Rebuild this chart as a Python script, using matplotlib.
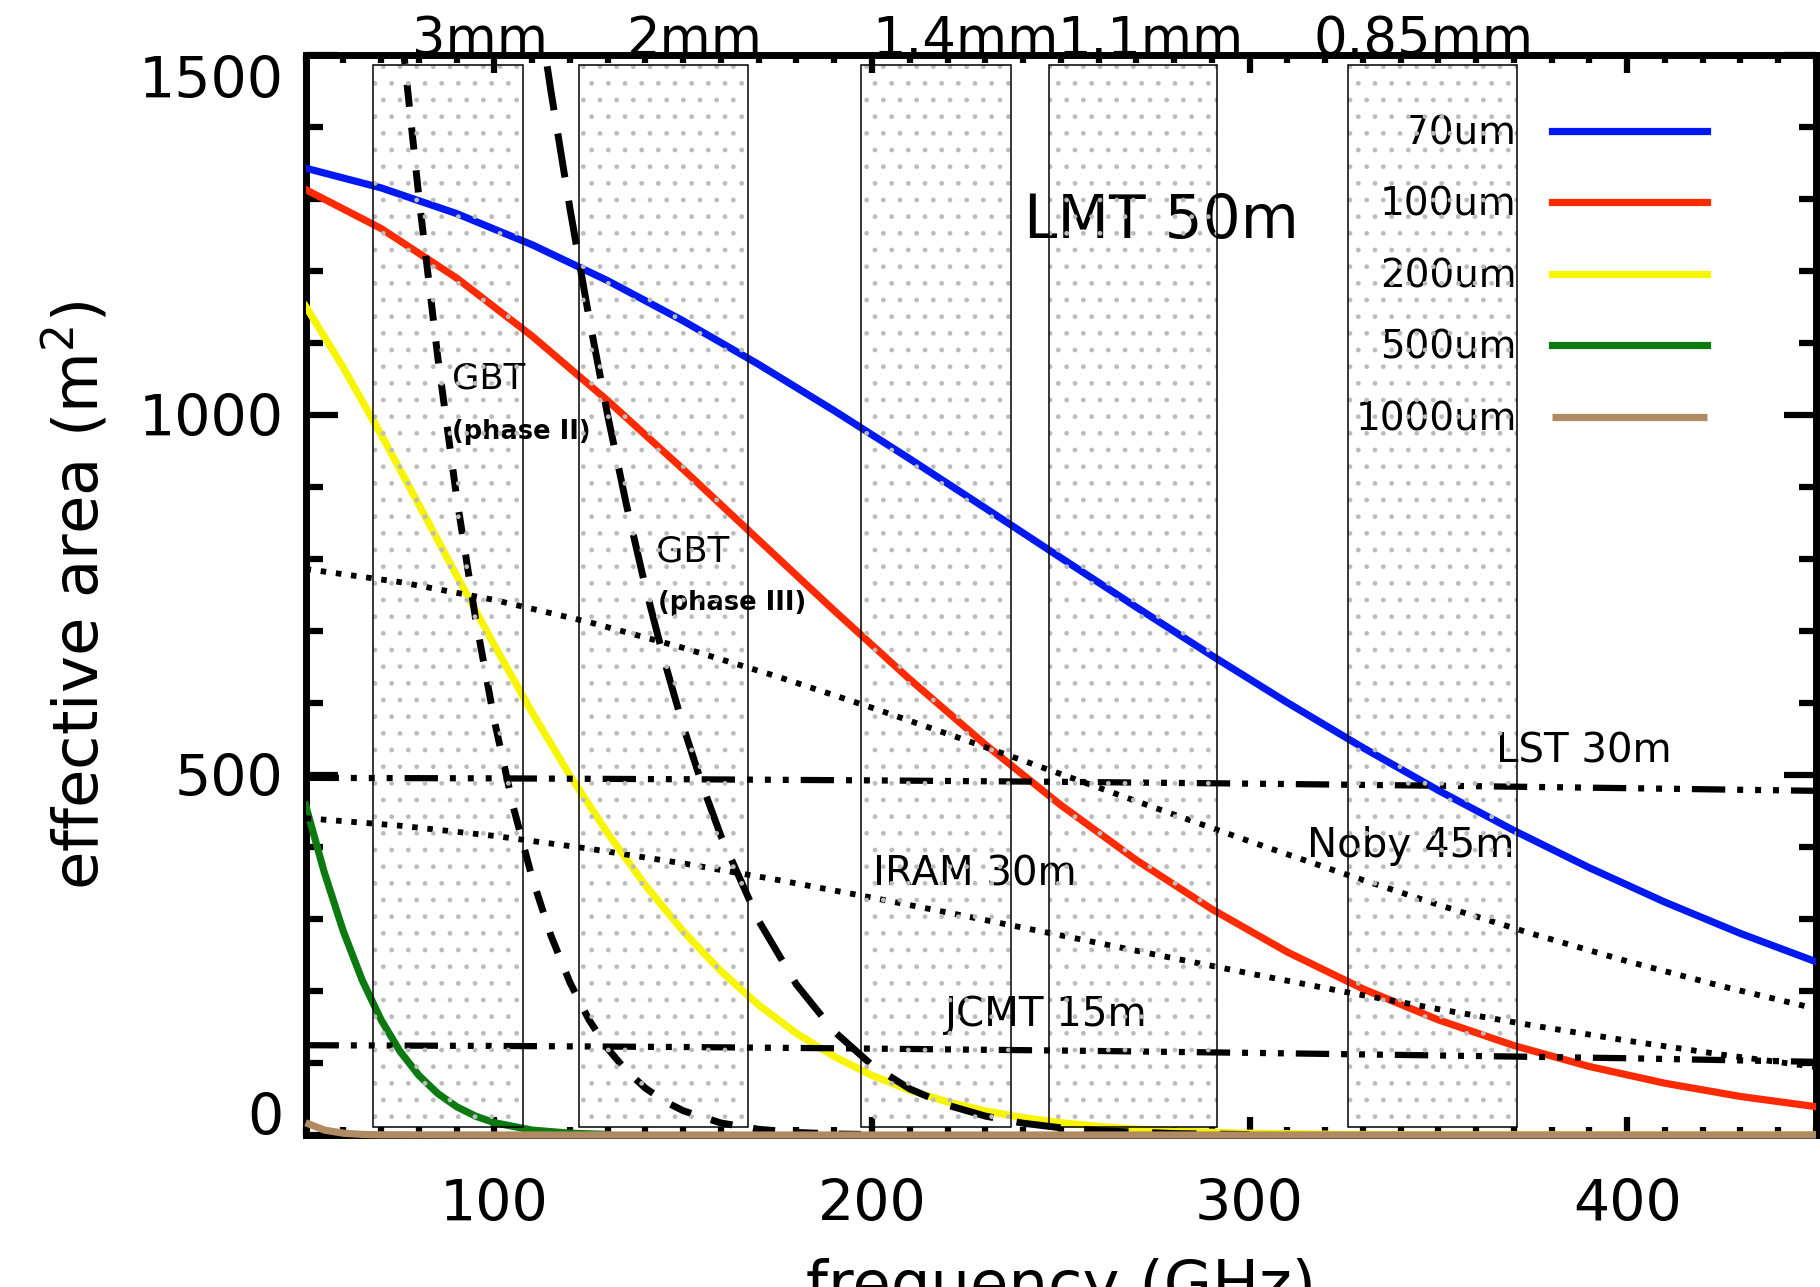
import matplotlib
matplotlib.use("Agg")
import matplotlib.pyplot as plt
from matplotlib.ticker import MultipleLocator, FixedLocator

plt.rcParams['font.family'] = ['DejaVu Sans']
plt.rcParams['lines.scale_dashes'] = False
plt.rcParams['hatch.linewidth'] = 1.0

# ---------------- data ----------------
freq_70um = [50, 70, 90, 110, 130, 150, 170, 190, 210, 230, 250, 270, 290, 310, 330,
             350, 370, 390, 410, 430, 450]
area_70um = [1342.8, 1315.4, 1279.7, 1236.4, 1186.5, 1130.7, 1070.2, 1005.9, 939.1, 870.7,
             801.7, 733.1, 665.8, 600.5, 538.0, 478.6, 422.9, 371.1, 323.4, 279.9, 240.6]

freq_100um = [50, 70, 90, 110, 130, 150, 170, 190, 210, 230, 250, 270, 290, 310, 330,
              350, 370, 390, 410, 430, 450]
area_100um = [1313.1, 1259.0, 1190.2, 1109.5, 1019.9, 924.5, 826.3, 728.3, 632.9, 542.3,
              458.2, 381.8, 313.7, 254.1, 203.0, 159.9, 124.2, 95.1, 71.9, 53.5, 39.3]

freq_200um = [50, 60, 70, 80, 90, 100, 110, 120, 130, 140, 150, 160, 170, 180, 190, 200,
              210, 220, 230, 240, 250, 260, 270, 280, 290, 300, 325, 350, 450]
area_200um = [1151.2, 1065.7, 972.8, 875.6, 777.1, 680.1, 586.9, 499.4, 419.1, 346.7,
              282.9, 227.5, 180.5, 141.2, 108.9, 82.8, 62.1, 46.0, 33.5, 24.1, 17.1, 11.9,
              8.2, 5.6, 3.8, 2.5, 0.8, 0.3, 0.0]

freq_500um = [50, 55, 60, 65, 70, 75, 80, 85, 90, 95, 100, 110, 120, 130]
area_500um = [458.2, 364.0, 282.9, 215.0, 159.9, 116.3, 82.8, 57.7, 39.3, 26.2, 17.1, 6.8, 2.5, 0.8]

freq_1000um = [50, 55, 60, 65, 70, 100, 450]
area_1000um = [17.1, 6.8, 2.5, 0.8, 0.3, 0.0, 0.0]

freq_gbt2 = [70, 75, 80, 85, 90, 95, 100, 105, 110, 115, 120, 125, 130, 135, 140, 145,
             150, 160, 170, 180, 190, 200]
area_gbt2 = [1831, 1553, 1303, 1080.5, 885.8, 717.9, 575.4, 455.9, 357.2, 276.7, 211.9,
             160.5, 120.1, 88.9, 65.1, 47.1, 33.7, 16.7, 7.9, 3.6, 1.5, 0.6]

freq_gbt3 = [110, 115, 120, 125, 130, 135, 140, 145, 150, 155, 160, 170, 180, 190, 200,
             210, 220, 230, 240, 250, 260, 280, 300]
area_gbt3 = [1623, 1449, 1287, 1137, 999.6, 874.5, 760.9, 659.0, 567.5, 486.8, 415.3,
             297.5, 208.9, 143.8, 97.0, 64.1, 41.5, 26.3, 16.4, 10.0, 6.0, 2.0, 0.6]

freq_tel = [50, 75, 100, 125, 150, 175, 200, 225, 250, 275, 300, 325, 350, 375, 400, 425, 450]
area_noby = [786.1, 767.9, 743.1, 712.4, 676.6, 636.6, 593.4, 548.0, 501.3, 454.3,
             407.9, 362.8, 319.7, 279.2, 241.3, 206.7, 175.4]
area_iram = [440.0, 429.6, 415.4, 397.7, 377.2, 354.3, 329.7, 303.8, 277.3, 250.6,
             224.4, 199.0, 174.8, 152.1, 131.0, 111.7, 94.4]

freq_flat = [50, 100, 150, 200, 250, 300, 350, 400, 450]
area_lst = [496.0, 495.3, 494.1, 492.5, 490.5, 488.0, 485.1, 481.7, 478.0]
area_jcmt = [124.7, 123.7, 122.2, 120.0, 117.3, 114.1, 110.5, 106.6, 101.6]

band_lo = [67.8, 122.5, 197.2, 246.9, 326.1]
band_hi = [107.6, 167.1, 236.8, 291.5, 370.9]
band_names = ['3mm', '2mm', '1.4mm', '1.1mm', '0.85mm']

legend_labels = ['70um', '100um', '200um', '500um', '1000um']
x_ticks = [100, 200, 300, 400]
y_ticks = [0, 500, 1000, 1500]

# ---------------- figure ----------------
fig = plt.figure(figsize=(18.2, 12.87), dpi=100)
ax = fig.add_axes([0.1679, 0.1181, 0.8299, 0.8392])
ax.set_xlim(50, 450)
ax.set_ylim(0, 1500)

colors = ['#0019f0', '#ff2a00', '#f8f500', '#0c7a10', '#b08a63']
lw_c = 5.2
h1, = ax.plot(freq_70um, area_70um, color=colors[0], lw=lw_c, zorder=3)
h2, = ax.plot(freq_100um, area_100um, color=colors[1], lw=lw_c, zorder=3)
h3, = ax.plot(freq_200um, area_200um, color=colors[2], lw=lw_c, zorder=3)
h4, = ax.plot(freq_500um, area_500um, color=colors[3], lw=lw_c, zorder=3)
h5, = ax.plot(freq_1000um, area_1000um, color=colors[4], lw=lw_c, zorder=4.5,
              clip_on=False, solid_capstyle='butt')

# other telescopes
ax.plot(freq_gbt2, area_gbt2, color='black', lw=5, dashes=(16, 15), zorder=4)
ax.plot(freq_gbt3, area_gbt3, color='black', lw=5, dashes=(32, 17), zorder=4)
ax.plot(freq_tel, area_noby, color='black', lw=4.2, dashes=(4, 7), zorder=4)
ax.plot(freq_tel, area_iram, color='black', lw=4.2, dashes=(4, 7), zorder=4)
ddd = (24, 8.6, 4.3, 8.6, 4.3, 8.6, 4.3, 8.6)
ax.plot(freq_flat, area_lst, color='black', lw=4.5, dashes=ddd, zorder=4)
ax.plot(freq_flat, area_jcmt, color='black', lw=4.5, dashes=ddd, zorder=4)

# shaded atmospheric windows
for lo, hi in zip(band_lo, band_hi):
    ax.axvspan(lo, hi, ymin=0.0074, ymax=0.9907, facecolor='none',
               edgecolor='#bcbcbc', hatch='.', linewidth=0, zorder=6)
    ax.axvspan(lo, hi, ymin=0.0074, ymax=0.9907, fill=False,
               edgecolor='black', linewidth=1.1, zorder=6)

# band labels above the axes
band_label_x = [96.2, 152.8, 224.8, 273.6, 346.1]
for xl, name in zip(band_label_x, band_names):
    ax.text(xl, 1.0, name, transform=ax.get_xaxis_transform(), ha='center',
            va='baseline', fontsize=38, clip_on=False, zorder=7)

# telescope labels
ax.text(240.3, 1246, 'LMT 50m', fontsize=43, ha='left', va='baseline', zorder=3)
ax.text(88.7, 1037, 'GBT', fontsize=25.5, ha='left', va='baseline', zorder=3)
ax.text(88.7, 967, '(phase II)', fontsize=18.5, fontweight='bold', ha='left',
        va='baseline', zorder=3)
ax.text(142.8, 796, 'GBT', fontsize=25.5, ha='left', va='baseline', zorder=3)
ax.text(143.4, 729, '(phase III)', fontsize=18.5, fontweight='bold', ha='left',
        va='baseline', zorder=3)
ax.text(365.2, 518, 'LST 30m', fontsize=29, ha='left', va='baseline', zorder=3)
ax.text(315.1, 386, 'Noby 45m', fontsize=29, ha='left', va='baseline', zorder=3)
ax.text(200.3, 346, 'IRAM 30m', fontsize=29, ha='left', va='baseline', zorder=3)
ax.text(219.2, 151, 'JCMT 15m', fontsize=29, ha='left', va='baseline', zorder=3)

# legend (labels left of the line samples, right aligned)
ax.legend([h1, h2, h3, h4, h5], legend_labels, markerfirst=False, frameon=False,
          fontsize=28, handlelength=4.0, handletextpad=0.9, labelspacing=0.86,
          loc='upper right', bbox_to_anchor=(0.928, 0.945), borderpad=0,
          borderaxespad=0)

# axes styling
for sp in ax.spines.values():
    sp.set_linewidth(5)
ax.xaxis.set_major_locator(FixedLocator(x_ticks))
ax.xaxis.set_minor_locator(MultipleLocator(10))
ax.yaxis.set_major_locator(FixedLocator(y_ticks))
ax.yaxis.set_minor_locator(MultipleLocator(100))
ax.tick_params(axis='both', which='both', direction='in', top=True, right=True,
               width=4.5, labelsize=41)
ax.tick_params(axis='x', which='major', length=13, pad=31)
ax.tick_params(axis='x', which='minor', length=5.5)
ax.tick_params(axis='y', which='major', length=23, pad=16)
ax.tick_params(axis='y', which='minor', length=12)

ylabels = ax.get_yticklabels()
ylabels[0].set_va('baseline')
ylabels[-1].set_va('top')

ax.set_ylabel('effective area (m$^2$)', fontsize=45)
ax.yaxis.set_label_coords(-0.129, 0.5)
ax.set_xlabel('frequency (GHz)', fontsize=45)
ax.xaxis.set_label_coords(0.5, -0.114)

fig.savefig('out.png', dpi=100)
